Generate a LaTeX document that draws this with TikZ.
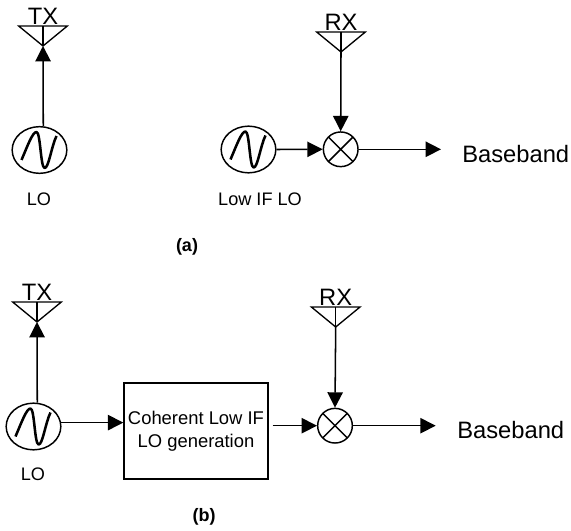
\documentclass[tikz,border=0pt]{standalone}
\usepackage{fontspec}
\setmainfont{Liberation Sans}
\usetikzlibrary{calc,arrows.meta,positioning}
\usetikzlibrary{shapes.geometric}
\tikzset{
wire/.style={line width=1.15pt, -{Triangle[length=11.5pt,width=11.5pt]}},
antenna/.style={isosceles triangle, isosceles triangle stretches, shape border rotate=-90, draw, line width=1pt, inner sep=0, outer sep=0, minimum height=15pt, minimum width=36.5pt, path picture={\draw[line width=1pt] (path picture bounding box.north) -- (path picture bounding box.south);}},
oscillator/.style={ellipse, draw, line width=1.1pt, inner sep=0, minimum width=41pt, minimum height=35pt, path picture={\draw[line width=1.9pt, line join=round] (path picture bounding box.center) ++(-18,10) .. controls +(6,-14) and +(-4,0) .. ++(15,-28) .. controls +(4,0) and +(-4,-1) .. ++(8,36) .. controls +(4,1) and +(-5,10) .. ++(12,-32);}},
mixer/.style={circle, draw, line width=1.1pt, inner sep=0, minimum size=26pt, path picture={\draw[line width=1.1pt] (path picture bounding box.north west) -- (path picture bounding box.south east) (path picture bounding box.north east) -- (path picture bounding box.south west);}},
lo_block/.style={rectangle, draw, line width=1.1pt, inner sep=0, minimum width=108pt, minimum height=72pt, align=center, font=\fontsize{13.8}{17}\selectfont},
big_label/.style={inner sep=0, font=\fontsize{17.8}{20}\selectfont},
small_label/.style={inner sep=0, font=\fontsize{13.6}{16}\selectfont},
caption_label/.style={inner sep=0, font=\fontsize{13.5}{15}\selectfont\bfseries}
}

\begin{document}
\begin{tikzpicture}[x=0.75pt,y=-0.75pt]
    \useasboundingbox (0,0) rectangle (571,531);
    % (a)
    \node[antenna, anchor=apex] (tx_ant_a) at (43,46) {};
    \node[big_label] (tx_a) [above=1pt of tx_ant_a.north] {TX};
    \node[oscillator] (lo_a) at (39.5,150) {};
    \node[small_label] (lo_text_a) at (39,199) {LO};
    \node[antenna, anchor=apex] (rx_ant_a) at (341,52) {};
    \node[big_label] (rx_a) [above=1pt of rx_ant_a.north] {RX};
    \node[oscillator] (lo_if) at (248.5,149.5) {};
    \node[small_label] (lo_if_text) at (260,199) {Low IF LO};
    \node[mixer] (mix_a) at (340.7,149.3) {};
    \node[big_label, anchor=west] (base_a) at (462,154.5) {Baseband};
    \node[caption_label] (cap_a) at (187,247) {(a)};
    \draw[wire] (lo_a.81) -- (tx_ant_a.apex);
    \draw[wire] (rx_ant_a.apex) -- (mix_a.north);
    \draw[wire] (lo_if.east) -- (mix_a.west);
    \draw[wire, shorten >=15.75pt] (mix_a.east) -- (mix_a.east -| base_a.west);
    % (b)
    \node[antenna, anchor=apex] (tx_ant_b) at (37,322) {};
    \node[big_label] (tx_b) [above=1pt of tx_ant_b.north] {TX};
    \node[oscillator] (lo_b) at (33.5,426.5) {};
    \node[small_label] (lo_text_b) at (33,474) {LO};
    \node[lo_block] (coh_block) at (196,431) {Coherent Low IF\\LO generation};
    \node[antenna, anchor=apex] (rx_ant_b) at (335.7,327) {};
    \node[big_label] (rx_b) [above=1pt of rx_ant_b.north] {RX};
    \node[mixer] (mix_b) at (335,425.7) {};
    \node[big_label, anchor=west] (base_b) at (457,430) {Baseband};
    \node[caption_label] (cap_b) at (204,517) {(b)};
    \draw[wire] (lo_b.81) -- (tx_ant_b.apex);
    \draw[wire] (lo_b.8) -- (coh_block.west |- lo_b.8);
    \draw[wire, shorten <=3pt] (coh_block.east |- mix_b.west) -- (mix_b.west);
    \draw[wire] (rx_ant_b.apex) -- (mix_b.north);
    \draw[wire, shorten >=16pt] (mix_b.east) -- (mix_b.east -| base_b.west);
\end{tikzpicture}
\end{document}
